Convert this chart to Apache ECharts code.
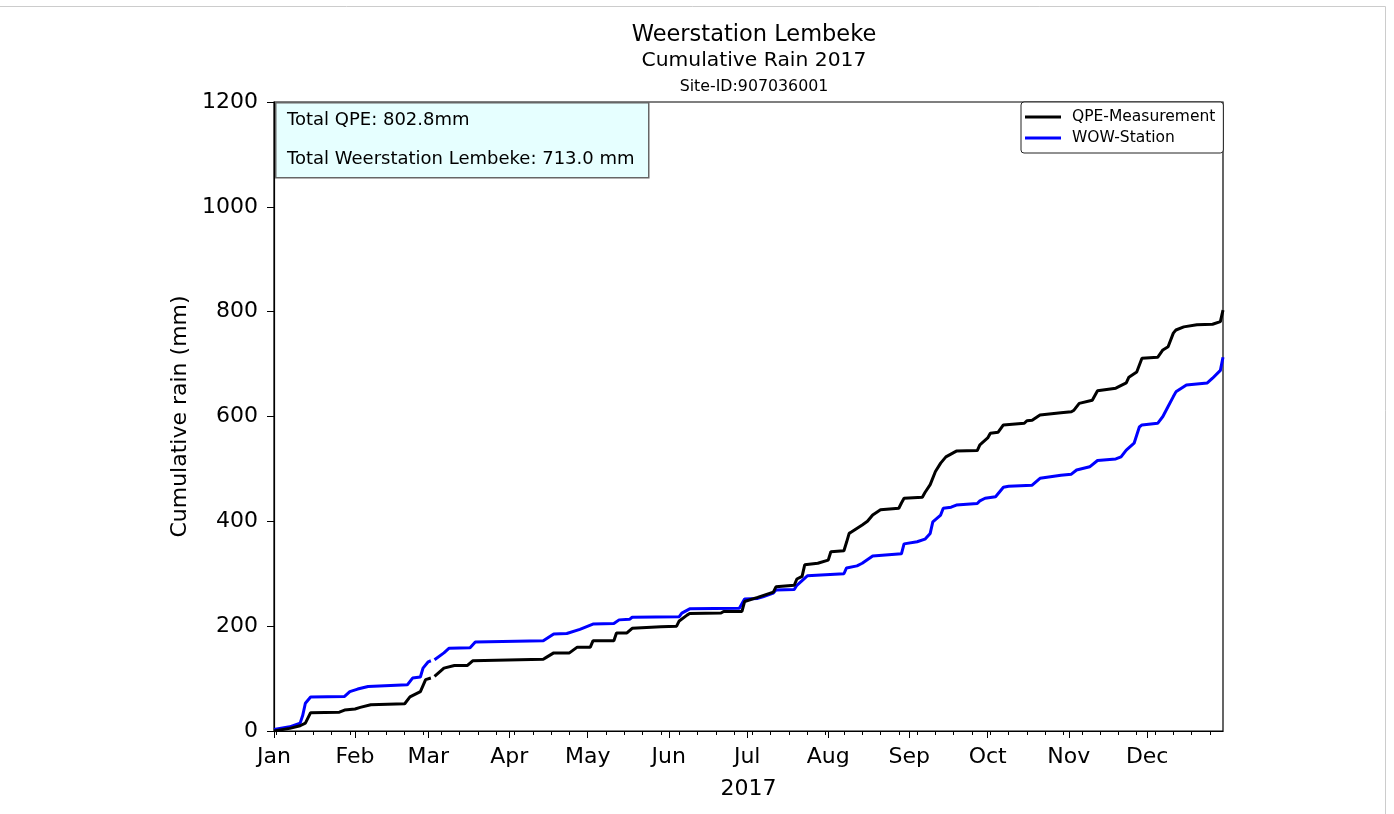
<!DOCTYPE html>
<html>
<head>
<meta charset="utf-8">
<script src="https://cdn.jsdelivr.net/npm/echarts@6/dist/echarts.min.js"></script>
<style>html,body{margin:0;padding:0;background:#fff;}#chart{width:1394px;height:814px;}</style>
</head>
<body>
<div id="chart"></div>
<script>
// Month tick labels and their day-of-year (0 = 1 Jan 2017)
const monthLabels = ['Jan','Feb','Mar','Apr','May','Jun','Jul','Aug','Sep','Oct','Nov','Dec'];
const monthStartDays = [0,31,59,90,120,151,181,212,243,273,304,334];
const yTicks = [0,200,400,600,800,1000,1200];

// QPE-Measurement: day-of-year and cumulative rain (mm); null = missing data
const qpeDays = [0,6,10,12,14,25,27,31,33,37,50,52,56,58,60,60.6,61.4,62,65,69,74,76,103,104,107,113,116,121,122,130,131,135,137,148,154,155,158,159,171,172,179,180,185,191,192,199,200,202,203,208,212,213,218,219,220,221,225,227,229,232,239,240,241,248,249,251,253,255,257,261,269,270,273,274,277,279,287,288,290,293,301,305,306,308,313,315,322,326,327,330,332,338,340,342,344,345,348,353,359,362,363];
const qpeValues = [0,5,10,15,35,36,40,42,45,50,52,65,75,98,101,null,104,107,120,125,125,134,137,140,149,149,160,160,172,172,187,187,196,199,200,210,221,224,225,228,228,247,255,265,275,278,290,295,317,320,326,342,344,360,377,380,393,400,412,422,425,435,444,446,455,470,495,511,523,534,535,546,559,568,570,584,587,592,593,603,607,609,612,625,631,649,654,664,675,685,711,713,727,733,759,765,771,775,776,781,802.8];

// WOW-Station: day-of-year and cumulative rain (mm); null = missing data
const wowDays = [0,6,10,11,12,14,27,29,32,36,51,53,56,57,59,60,60.6,61.4,62,65,67,75,77,103,107,112,117,122,130,132,136,137,155,156,159,178,180,185,187,191,192,199,200,204,218,219,223,225,229,240,241,246,249,251,252,255,256,259,261,269,270,272,276,279,281,290,293,301,305,307,312,315,322,324,326,329,331,332,338,340,342,344,345,349,357,359,362,363];
const wowValues = [3,8,15,30,53,65,66,75,80,85,88,101,103,120,132,134,null,136,137,149,158,159,170,172,185,186,194,204,205,212,213,217,218,225,233,234,252,253,256,263,269,270,278,296,300,311,315,320,334,338,357,361,366,377,399,412,425,427,431,434,439,444,447,465,467,469,482,488,490,498,504,516,519,523,536,549,580,584,587,600,619,638,647,660,664,673,688,713];

// Weekly (Monday) minor tick positions, day-of-year
const mondayDays = [];
for (let d = 1; d <= 363; d += 7) mondayDays.push(d);

function pairs(days, vals) {
  return days.map((d, i) => [d, vals[i] === null ? '-' : vals[i]]);
}
const qpeTotal = qpeValues[qpeValues.length - 1];
const wowTotal = wowValues[wowValues.length - 1];

const FONT = 'DejaVu Sans';
const chart = echarts.init(document.getElementById('chart'));
chart.setOption({
  backgroundColor: '#fff',
  animation: false,
  textStyle: { fontFamily: FONT, color: '#000' },
  title: [
    { text: 'Weerstation Lembeke', left: 749, top: 19, textAlign: 'center',
      textStyle: { fontFamily: FONT, fontSize: 22.5, fontWeight: 'normal', color: '#000' } },
    { text: 'Cumulative Rain 2017', left: 749, top: 46, textAlign: 'center',
      textStyle: { fontFamily: FONT, fontSize: 20.3, fontWeight: 'normal', color: '#000' } },
    { text: 'Site-ID:907036001', left: 749, top: 74, textAlign: 'center',
      textStyle: { fontFamily: FONT, fontSize: 15.8, fontWeight: 'normal', color: '#000' } }
  ],
  grid: { left: 274, right: 171, top: 102, bottom: 83, show: true, borderColor: '#000', borderWidth: 1.2, backgroundColor: 'transparent' },
  legend: {
    orient: 'vertical', left: 1021, top: 102,
    padding: [6, 8, 6, 4], itemGap: 3, itemWidth: 36, itemHeight: 3, icon: 'rect',
    backgroundColor: '#fff', borderColor: '#222', borderWidth: 1, borderRadius: 3,
    textStyle: { fontFamily: FONT, fontSize: 15.5, color: '#000', lineHeight: 18, padding: [0, 0, 0, 6] },
    data: ['QPE-Measurement', 'WOW-Station']
  },
  xAxis: [
    {
      type: 'value', min: 0, max: 363, name: '2017', nameLocation: 'middle', nameGap: 47,
      nameTextStyle: { fontFamily: FONT, fontSize: 22, color: '#000' },
      axisLine: { show: true, lineStyle: { color: '#000', width: 1.2 } },
      axisTick: { show: true, length: 7, inside: false, customValues: monthStartDays, lineStyle: { color: '#000', width: 1 } },
      axisLabel: { show: true, margin: 15, fontFamily: FONT, fontSize: 22, color: '#000', customValues: monthStartDays,
        formatter: v => monthLabels[monthStartDays.indexOf(Math.round(v))] || '' },
      splitLine: { show: false }
    },
    {
      type: 'value', min: 0, max: 363, position: 'bottom',
      axisLine: { show: false },
      axisTick: { show: true, length: 4, customValues: mondayDays, lineStyle: { color: '#000', width: 1 } },
      axisLabel: { show: false },
      splitLine: { show: false }
    }
  ],
  yAxis: {
    type: 'value', min: 0, max: 1200, interval: 200,
    name: 'Cumulative rain (mm)', nameLocation: 'middle', nameGap: 80,
    nameTextStyle: { fontFamily: FONT, fontSize: 22, color: '#000' },
    axisLine: { show: true, lineStyle: { color: '#000', width: 1.2 } },
    axisTick: { show: true, length: 7, lineStyle: { color: '#000', width: 1 } },
    axisLabel: { fontFamily: FONT, fontSize: 22, color: '#000', margin: 16, customValues: yTicks,
      formatter: v => String(v) },
    splitLine: { show: false }
  },
  series: [
    { name: 'QPE-Measurement', type: 'line', xAxisIndex: 0, data: pairs(qpeDays, qpeValues),
      symbol: 'none', connectNulls: false, color: '#000', lineStyle: { color: '#000', width: 3 }, z: 3 },
    { name: 'WOW-Station', type: 'line', xAxisIndex: 0, data: pairs(wowDays, wowValues),
      symbol: 'none', connectNulls: false, color: '#0000ff', lineStyle: { color: '#0000ff', width: 3 }, z: 2 }
  ],
  graphic: [
    { type: 'line', shape: { x1: 0, y1: 6.5, x2: 1385.5, y2: 6.5 }, style: { stroke: '#cccccc', lineWidth: 1 }, z: 1 },
    { type: 'line', shape: { x1: 1385.5, y1: 6.5, x2: 1385.5, y2: 814 }, style: { stroke: '#cccccc', lineWidth: 1 }, z: 1 },
    { type: 'rect', left: 275, top: 102, shape: { width: 373, height: 75 },
      style: { fill: '#e6ffff', stroke: '#666', lineWidth: 1.5 }, z: 10 },
    { type: 'text', left: 287, top: 111, z: 11,
      style: { text: 'Total QPE: ' + qpeTotal.toFixed(1) + 'mm', fontFamily: FONT, fontSize: 18, fill: '#000' } },
    { type: 'text', left: 287, top: 150, z: 11,
      style: { text: 'Total Weerstation Lembeke: ' + wowTotal.toFixed(1) + ' mm', fontFamily: FONT, fontSize: 18, fill: '#000' } }
  ]
});
</script>
</body>
</html>
